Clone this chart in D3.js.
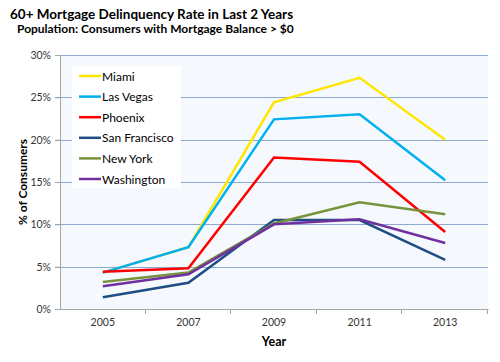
<!DOCTYPE html>
<html>
<head>
<meta charset="utf-8">
<script src="https://cdn.jsdelivr.net/npm/d3@7"></script>
<style>
  body { margin: 0; background: #fff; }
  text { font-family: Lato, "Open Sans", sans-serif; }
</style>
</head>
<body>
<div id="chart"></div>
<script>
var years = ['2005', '2007', '2009', '2011', '2013'];
var yTicks = [0, 5, 10, 15, 20, 25, 30];

var miami = [4.3, 7.3, 24.4, 27.3, 20.0];
var lasVegas = [4.3, 7.3, 22.4, 23.0, 15.2];
var phoenix = [4.4, 4.8, 17.9, 17.4, 9.1];
var sanFrancisco = [1.4, 3.1, 10.5, 10.5, 5.8];
var newYork = [3.2, 4.3, 10.1, 12.6, 11.2];
var washington = [2.7, 4.1, 10.0, 10.6, 7.8];

var series = [
    { name: 'Miami', values: miami, color: '#ffe600' },
    { name: 'Las Vegas', values: lasVegas, color: '#00b0f0' },
    { name: 'Phoenix', values: phoenix, color: '#ff0000' },
    { name: 'San Francisco', values: sanFrancisco, color: '#1f4e85' },
    { name: 'New York', values: newYork, color: '#77933c' },
    { name: 'Washington', values: washington, color: '#7030a0' }
];

var width = 500;
var height = 362;
var margin = { top: 55, right: 12, bottom: 53, left: 60 };
var plotW = width - margin.left - margin.right;
var plotH = height - margin.top - margin.bottom;

var svg = d3.select('#chart')
    .append('svg')
    .attr('width', width)
    .attr('height', height);

// titles
svg.append('text')
    .attr('x', 10)
    .attr('y', 19)
    .style('font-size', '13.5px')
    .style('font-weight', 'bold')
    .attr('fill', '#000')
    .text('60+ Mortgage Delinquency Rate in Last 2 Years');

svg.append('text')
    .attr('x', 17)
    .attr('y', 33)
    .style('font-size', '12px')
    .style('font-weight', 'bold')
    .attr('fill', '#000')
    .text('Population:  Consumers with Mortgage Balance > $0');

var g = svg.append('g')
    .attr('transform', 'translate(' + margin.left + ',' + margin.top + ')');

var x = d3.scaleBand()
    .domain(years)
    .range([0, plotW]);

var y = d3.scaleLinear()
    .domain([0, 30])
    .range([plotH, 0]);

// plot background
g.append('rect')
    .attr('width', plotW)
    .attr('height', plotH)
    .attr('fill', '#f5f9fd');

// gridlines
g.selectAll('.grid')
    .data(yTicks.slice(1))
    .enter()
    .append('line')
    .attr('class', 'grid')
    .attr('x1', -5)
    .attr('x2', plotW)
    .attr('y1', function (d) { return Math.round(y(d)) + 0.5; })
    .attr('y2', function (d) { return Math.round(y(d)) + 0.5; })
    .attr('stroke', '#8eaad2')
    .attr('stroke-width', 1);

// y axis
var yAxis = d3.axisLeft(y)
    .tickValues(yTicks)
    .tickSize(5)
    .tickPadding(4)
    .tickFormat(function (d) { return d + '%'; });

var yG = g.append('g').call(yAxis);
yG.select('.domain').attr('stroke', '#a6a6a6');
yG.selectAll('.tick line').attr('stroke', '#a6a6a6');
yG.selectAll('.tick text')
    .style('font-size', '10.5px')
    .style('font-family', 'Lato, sans-serif')
    .attr('fill', '#333');

// x axis
var xAxis = d3.axisBottom(x)
    .tickSize(0)
    .tickPadding(10);

var xG = g.append('g')
    .attr('transform', 'translate(0,' + plotH + ')')
    .call(xAxis);
xG.select('.domain').attr('stroke', '#a6a6a6');
xG.selectAll('.tick text')
    .style('font-size', '10.5px')
    .style('font-family', 'Lato, sans-serif')
    .attr('fill', '#333');

// tick marks between categories
xG.selectAll('.sep')
    .data(years.slice(1).concat(['end']))
    .enter()
    .append('line')
    .attr('class', 'sep')
    .attr('x1', function (d, i) { return Math.round(x.step() * (i + 1)) - 0.5; })
    .attr('x2', function (d, i) { return Math.round(x.step() * (i + 1)) - 0.5; })
    .attr('y1', 0)
    .attr('y2', 5)
    .attr('stroke', '#a6a6a6');

// axis titles
svg.append('text')
    .attr('x', margin.left + plotW / 2)
    .attr('y', 346)
    .attr('text-anchor', 'middle')
    .style('font-size', '12.5px')
    .style('font-weight', 'bold')
    .text('Year');

svg.append('text')
    .attr('transform', 'translate(27,' + (margin.top + plotH / 2) + ') rotate(-90)')
    .attr('text-anchor', 'middle')
    .style('font-size', '12px')
    .style('font-weight', 'bold')
    .text('% of Consumers');

// lines
var line = d3.line()
    .x(function (d, i) { return x(years[i]) + x.bandwidth() / 2; })
    .y(function (d) { return y(d); });

g.selectAll('.series')
    .data(series)
    .enter()
    .append('path')
    .attr('class', 'series')
    .attr('d', function (d) { return line(d.values); })
    .attr('fill', 'none')
    .attr('stroke', function (d) { return d.color; })
    .attr('stroke-width', 2.5);

// legend
var legendX = 12;
var legendY = 11;
var legendRow = 20.6;

g.append('rect')
    .attr('x', legendX)
    .attr('y', legendY)
    .attr('width', 109)
    .attr('height', 122)
    .attr('fill', '#fff');

var legend = g.selectAll('.legend')
    .data(series)
    .enter()
    .append('g')
    .attr('class', 'legend')
    .attr('transform', function (d, i) {
        return 'translate(' + (legendX + 7) + ',' + (legendY + 10 + i * legendRow) + ')';
    });

legend.append('line')
    .attr('x1', 0)
    .attr('x2', 22)
    .attr('stroke', function (d) { return d.color; })
    .attr('stroke-width', 2.5);

legend.append('text')
    .attr('x', 23)
    .attr('y', 4.5)
    .style('font-size', '12px')
    .attr('fill', '#000')
    .text(function (d) { return d.name; });
</script>
</body>
</html>
